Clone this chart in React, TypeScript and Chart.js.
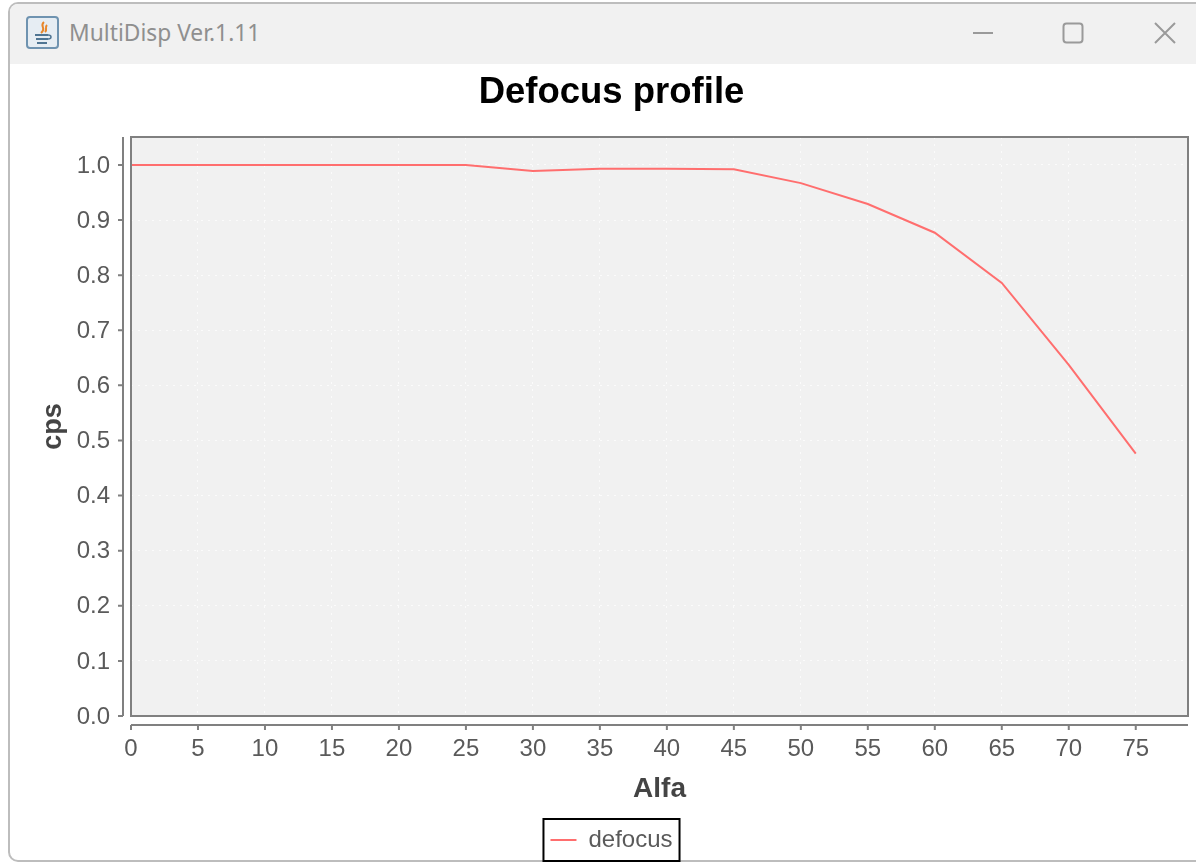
import React, { useEffect, useRef } from "react";
import { Chart, registerables } from "chart.js";

Chart.register(...registerables);

const windowTitle = "MultiDisp Ver.1.11";
const chartTitle = "Defocus profile";
const seriesName = "defocus";
const xLabel = "Alfa";
const yLabel = "cps";
const alfa = [0, 5, 10, 15, 20, 25, 30, 35, 40, 45, 50, 55, 60, 65, 70, 75];
const cps = [1.0, 1.0, 1.0, 1.0, 1.0, 1.0, 0.989, 0.993, 0.993, 0.992, 0.967, 0.929, 0.877, 0.786, 0.637, 0.476];
const xRange = [0, 78.9];
const yRange = [0, 1.0507];

const AXIS = "#808080";
const TICK_TEXT = "#5a5a5a";
const TITLE_TEXT = "#444444";
const HEAD = "Liberation Sans";

const decorate = {
  id: "decorate",
  beforeDraw(chart: any) {
    const { ctx, chartArea: a } = chart;
    ctx.save();
    ctx.fillStyle = "#f1f1f1";
    ctx.fillRect(a.left, a.top, a.right - a.left, a.bottom - a.top);
    ctx.restore();
  },
  afterDraw(chart: any) {
    const { ctx, chartArea: a, scales } = chart;
    ctx.save();
    ctx.strokeStyle = AXIS;
    ctx.lineWidth = 2;
    ctx.strokeRect(a.left, a.top, a.right - a.left, a.bottom - a.top);

    const yAxisX = a.left - 8;
    const xAxisY = a.bottom + 9;
    ctx.beginPath();
    ctx.moveTo(yAxisX, a.top);
    ctx.lineTo(yAxisX, a.bottom);
    scales.y.ticks.forEach((t: any) => {
      const p = scales.y.getPixelForValue(t.value);
      ctx.moveTo(yAxisX, p);
      ctx.lineTo(yAxisX - 5, p);
    });
    ctx.moveTo(a.left, xAxisY);
    ctx.lineTo(a.right, xAxisY);
    scales.x.ticks.forEach((t: any) => {
      const p = scales.x.getPixelForValue(t.value);
      ctx.moveTo(p, xAxisY);
      ctx.lineTo(p, xAxisY + 5);
    });
    ctx.stroke();

    const hit = chart.legend.legendHitBoxes[0];
    if (hit) {
      ctx.strokeStyle = "#000000";
      ctx.lineWidth = 2;
      ctx.strokeRect(hit.left - 7, hit.top - 9, hit.width + 14, hit.height + 18);
    }
    ctx.restore();
  },
};

function Icon() {
  return (
    <svg width="33" height="33" viewBox="0 0 33 33" style={{ position: "absolute", left: 26, top: 16 }}>
      <rect x="1" y="1" width="31" height="31" rx="3" fill="#e6edf3" stroke="#6f93b0" strokeWidth="2" />
      <path d="M18 6c-5 4 3 6-3 11M21 9c-3 3 1 4-2 7" fill="none" stroke="#e8862a" strokeWidth="2" />
      <path d="M9 19h13M10 23h12M11 27h10" fill="none" stroke="#4f7593" strokeWidth="2" />
      <path d="M22 19c4 0 4 4 0 4" fill="none" stroke="#4f7593" strokeWidth="1.5" />
    </svg>
  );
}

function Controls() {
  return (
    <svg width="220" height="40" viewBox="0 0 220 40" style={{ position: "absolute", left: 960, top: 12 }}>
      <g fill="none" stroke="#9a9a9a" strokeWidth="2">
        <path d="M13 21h20" />
        <rect x="103.5" y="11.5" width="19" height="19" rx="3" />
        <path d="M195 11l20 20M215 11l-20 20" />
      </g>
    </svg>
  );
}

export default function App() {
  const ref = useRef<HTMLCanvasElement>(null);

  useEffect(() => {
    document.body.style.margin = "0";
    document.body.style.background = "#ffffff";
    const chart = new Chart(ref.current as HTMLCanvasElement, {
      type: "line",
      plugins: [decorate],
      data: {
        datasets: [
          {
            label: seriesName,
            data: alfa.map((x, i) => ({ x, y: cps[i] })),
            borderColor: "#ff6e6e",
            backgroundColor: "#ff6e6e",
            borderWidth: 2,
            pointRadius: 0,
            pointStyle: "line",
            tension: 0,
            fill: false,
          },
        ],
      },
      options: {
        animation: false,
        responsive: false,
        layout: { padding: { top: 0, right: 8, bottom: 1, left: 0 } },
        plugins: {
          tooltip: { enabled: false },
          title: {
            display: true,
            text: chartTitle,
            color: "#000000",
            font: { family: HEAD, size: 36.5, weight: "bold" },
            padding: { top: 71, bottom: 22.2 },
          },
          legend: {
            position: "bottom",
            labels: {
              color: TICK_TEXT,
              font: { family: HEAD, size: 24 },
              usePointStyle: true,
              pointStyleWidth: 26,
              padding: 9,
            },
          },
        },
        scales: {
          x: {
            type: "linear",
            min: xRange[0],
            max: xRange[1],
            afterFit: (s: any) => {
              s.height = 103;
            },
            border: { display: false, dash: [2, 5] },
            grid: { color: "#fbfbfb", lineWidth: 1, drawTicks: false },
            title: {
              display: true,
              text: xLabel,
              color: TITLE_TEXT,
              font: { family: HEAD, size: 28, weight: "bold" },
              padding: { top: 0, bottom: 13 },
            },
            ticks: {
              stepSize: 5,
              includeBounds: false,
              autoSkip: false,
              maxRotation: 0,
              padding: 19,
              color: TICK_TEXT,
              font: { family: HEAD, size: 24 },
            },
          },
          y: {
            type: "linear",
            min: yRange[0],
            max: yRange[1],
            afterFit: (s: any) => {
              s.width = 96;
            },
            border: { display: false, dash: [2, 5] },
            grid: { color: "#fbfbfb", lineWidth: 1, drawTicks: false },
            title: {
              display: true,
              text: yLabel,
              color: TITLE_TEXT,
              font: { family: HEAD, size: 27, weight: "bold" },
              padding: { top: 2, bottom: 0 },
            },
            ticks: {
              stepSize: 0.1,
              includeBounds: false,
              autoSkip: false,
              padding: 21,
              labelOffset: 1,
              color: TICK_TEXT,
              font: { family: HEAD, size: 24 },
              callback: (v: any) => Number(v).toFixed(1),
            },
          },
        },
      },
    } as any);
    return () => chart.destroy();
  }, []);

  return (
    <div style={{ position: "absolute", left: 0, top: 0, width: 1196, height: 863, overflow: "hidden", background: "#ffffff", filter: "blur(0.35px)" }}>
      <div
        style={{
          position: "absolute",
          left: 8,
          top: 2,
          width: 1210,
          height: 860,
          boxSizing: "border-box",
          border: "2px solid #bdbdbd",
          borderRadius: 10,
          background: "#ffffff",
        }}
      />
      <div style={{ position: "absolute", left: 10, top: 4, width: 1186, height: 60, background: "#f1f1f1", borderTopLeftRadius: 8 }} />
      <Icon />
      <div
        style={{
          position: "absolute",
          left: 69,
          top: 17,
          fontFamily: "'Noto Sans'",
          fontSize: 22.8,
          lineHeight: "31px",
          color: "#8f8f8f",
          whiteSpace: "nowrap",
        }}
      >
        {windowTitle}
      </div>
      <Controls />
      <canvas ref={ref} width={1161} height={863} style={{ position: "absolute", left: 35, top: 0, display: "block" }} />
    </div>
  );
}
